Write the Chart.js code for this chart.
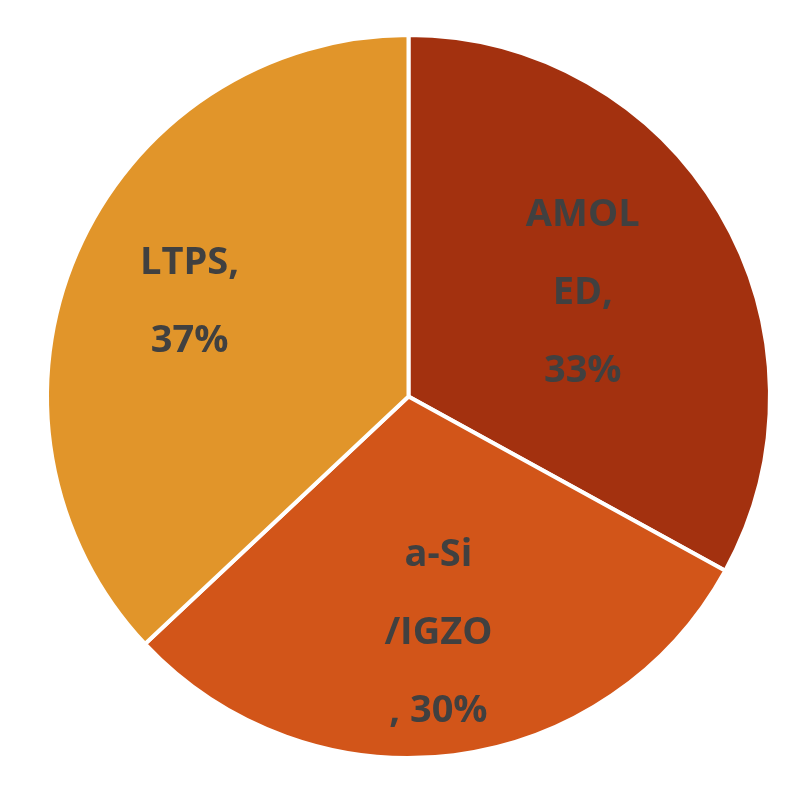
<!DOCTYPE html>
<html lang="en">
<head>
<meta charset="UTF-8">
<title>TFT share</title>
<script src="https://cdn.jsdelivr.net/npm/chart.js"></script>
<style>
  html, body { margin: 0; padding: 0; background: #fff; }
  .wrap { width: 800px; height: 787px; }
</style>
</head>
<body>
<div class="wrap"><canvas id="pie"></canvas></div>
<script>
const categories = ['AMOLED', 'a-Si/IGZO', 'LTPS'];
const shares = [33, 30, 37];
const labelLines = [['AMOL', 'ED,', '33%'], ['a-Si', '/IGZO', ', 30%'], ['LTPS,', '37%']];
const colors = ['#A3310F', '#D25519', '#E1952A'];
const labelRadius = [0.56, 0.66, 0.66];

// draw the in-slice labels at each arc's mid angle
const sliceLabels = {
    id: 'sliceLabels',
    afterDatasetsDraw(chart) {
        const ctx = chart.ctx;
        const arcs = chart.getDatasetMeta(0).data;
        ctx.save();
        ctx.fillStyle = '#404040';
        ctx.font = 'bold 38px "Open Sans", sans-serif';
        ctx.textAlign = 'center';
        ctx.textBaseline = 'middle';
        arcs.forEach((arc, i) => {
            const p = arc.getProps(['x', 'y', 'startAngle', 'endAngle', 'outerRadius'], true);
            const mid = (p.startAngle + p.endAngle) / 2;
            const r = p.outerRadius * labelRadius[i];
            const cx = p.x + Math.cos(mid) * r;
            const cy = p.y + Math.sin(mid) * r;
            const lines = labelLines[i];
            const lh = 78;
            lines.forEach((t, j) => {
                ctx.fillText(t, cx, cy + (j - (lines.length - 1) / 2) * lh);
            });
        });
        ctx.restore();
    }
};

new Chart(document.getElementById('pie'), {
    type: 'pie',
    data: {
        labels: categories,
        datasets: [{
            data: shares,
            backgroundColor: colors,
            borderColor: '#ffffff',
            borderWidth: 4
        }]
    },
    options: {
        responsive: true,
        maintainAspectRatio: false,
        animation: false,
        layout: { padding: { top: 33, bottom: 27, left: 45, right: 28 } },
        plugins: { legend: { display: false }, tooltip: { enabled: false } }
    },
    plugins: [sliceLabels]
});
</script>
</body>
</html>
